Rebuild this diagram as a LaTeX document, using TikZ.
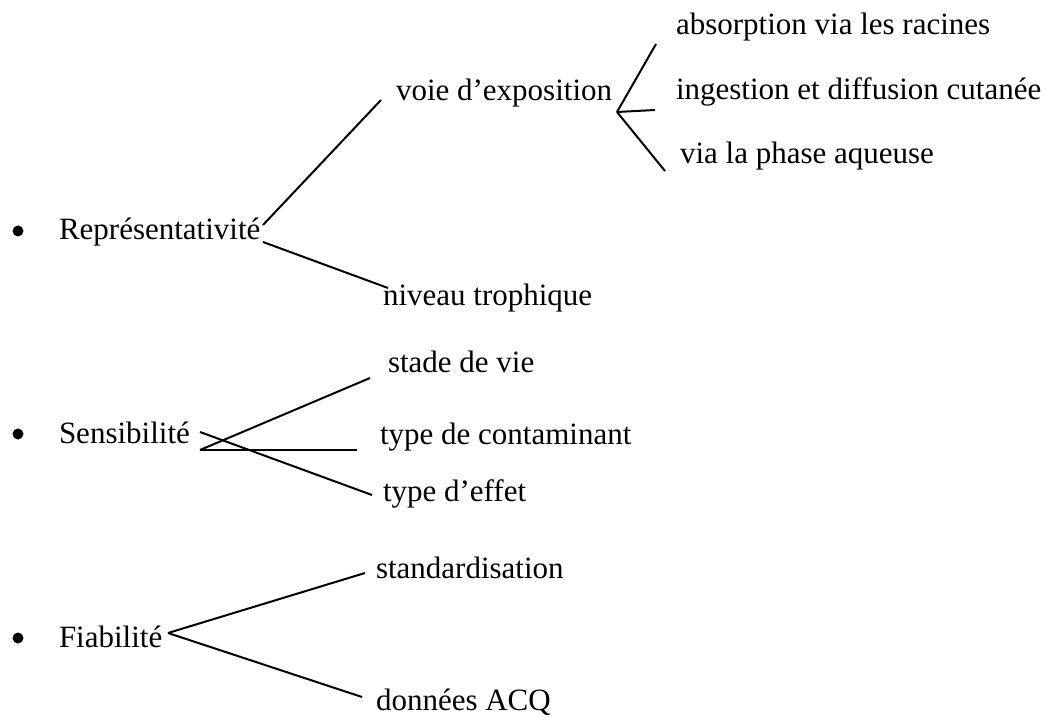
\documentclass[tikz,border=0pt]{standalone}
\usepackage{fontspec}
\setmainfont{Liberation Serif}
\begin{document}
\begin{tikzpicture}[x=0.4pt, y=-0.4pt, thick,
    font=\fontsize{12.4}{14}\selectfont,
    every node/.style={anchor=base west, inner sep=0pt},
    bul/.style={anchor=center, circle, fill, minimum size=4.4pt}]
        \useasboundingbox (0,0) rectangle (1045,718);

        % Bullets and main criteria
        \node[bul] (bul1) at (18,231) {};
        \node[bul] (bul2) at (18,434) {};
        \node[bul] (bul3) at (18,638) {};
        \node (repr) at (58,240) {Représentativité};
        \node (sens) at (58,443) {Sensibilité};
        \node (fiab) at (58,647) {Fiabilité};

        % Sub-criteria
        \node (voie) at (395,101) {voie d’exposition};
        \node (niveau) at (382,306) {niveau trophique};
        \node (absorp) at (675,35) {absorption via les racines};
        \node (ingest) at (675,100) {ingestion et diffusion cutanée};
        \node (phase) at (679,164) {via la phase aqueuse};
        \node (stade) at (387,373) {stade de vie};
        \node (contam) at (379,444) {type de contaminant};
        \node (effet) at (382,501) {type d’effet};
        \node (standard) at (375,578) {standardisation};
        \node (acq) at (375,710) {données ACQ};

        % Branch points and free ends
        \coordinate (repr-up) at (263,225);
        \coordinate (repr-dn) at (263,242);
        \coordinate (voie-in) at (381,100);
        \coordinate (niveau-in) at (388,288);
        \coordinate (voie-fork) at (617,112);
        \coordinate (absorp-in) at (656,44);
        \coordinate (ingest-in) at (655,110);
        \coordinate (phase-in) at (665,171);
        \coordinate (sens-fork) at (200,450);
        \coordinate (sens-x) at (200,432);
        \coordinate (stade-in) at (370,378);
        \coordinate (contam-in) at (357,450);
        \coordinate (effet-in) at (372,495);
        \coordinate (fiab-fork) at (168,633);
        \coordinate (standard-in) at (365,573);
        \coordinate (acq-in) at (362,697);

        % Branches
        \draw (repr-up) -- (voie-in);
        \draw (repr-dn) -- (niveau-in);
        \draw (voie-fork) -- (absorp-in);
        \draw (voie-fork) -- (ingest-in);
        \draw (voie-fork) -- (phase-in);
        \draw (sens-fork) -- (stade-in);
        \draw (sens-fork) -- (contam-in);
        \draw (sens-x) -- (effet-in);
        \draw (fiab-fork) -- (standard-in);
        \draw (fiab-fork) -- (acq-in);
\end{tikzpicture}
\end{document}
